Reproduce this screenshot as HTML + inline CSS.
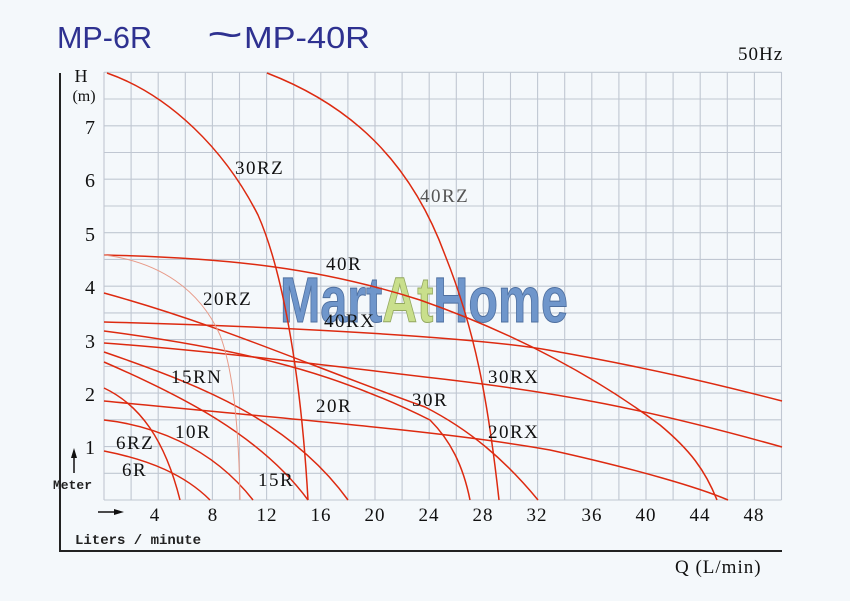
<!DOCTYPE html>
<html><head><meta charset="utf-8"><style>
html,body{margin:0;padding:0;background:#f4f8fb;}
svg{display:block}
.s{font-family:"Liberation Serif","DejaVu Serif",serif;fill:#111;}
.m{font-family:"Liberation Mono","DejaVu Sans Mono",monospace;fill:#222;font-weight:bold;}
</style></head><body>
<svg width="850" height="601" viewBox="0 0 850 601" xmlns="http://www.w3.org/2000/svg">
<rect width="850" height="601" fill="#f4f8fb"/>
<text x="57" y="48" font-family="Liberation Sans, sans-serif" font-size="31" fill="#2e3190" textLength="95" lengthAdjust="spacingAndGlyphs">MP-6R</text>
<text x="207" y="48" font-family="Liberation Sans, sans-serif" font-size="40" fill="#2e3190" textLength="36" lengthAdjust="spacingAndGlyphs">~</text>
<text x="244" y="48" font-family="Liberation Sans, sans-serif" font-size="31" fill="#2e3190" textLength="126" lengthAdjust="spacingAndGlyphs">MP-40R</text>
<text x="738" y="60" class="s" font-size="19" letter-spacing="1">50Hz</text>
<g stroke="#c0c7d2" stroke-width="1.1" fill="none">
<path d="M104 72V500M131.1 72V500M158.2 72V500M185.3 72V500M212.4 72V500M239.5 72V500M266.6 72V500M293.7 72V500M320.8 72V500M347.9 72V500M375 72V500M402.1 72V500M429.2 72V500M456.3 72V500M483.4 72V500M510.5 72V500M537.6 72V500M564.7 72V500M591.8 72V500M618.9 72V500M646 72V500M673.1 72V500M700.2 72V500M727.3 72V500M754.4 72V500M781.5 72V500"/>
<path d="M104 72.3H781.5M104 99H781.5M104 125.8H781.5M104 152.5H781.5M104 179.2H781.5M104 206H781.5M104 232.7H781.5M104 259.4H781.5M104 286.2H781.5M104 312.9H781.5M104 339.6H781.5M104 366.4H781.5M104 393.1H781.5M104 419.8H781.5M104 446.6H781.5M104 473.3H781.5M104 500H781.5"/>
</g>
<path d="M60 73V551H782" stroke="#222" stroke-width="2" fill="none"/>
<text x="280" y="322" font-family="Liberation Sans, sans-serif" font-weight="bold" font-size="64" fill="#6f96cb" stroke="#4e6f9f" stroke-width="1" textLength="288" lengthAdjust="spacingAndGlyphs">Mart<tspan fill="#c9df8c" stroke="#93a860">At</tspan>Home</text>
<g fill="none" stroke="#dd2a10" stroke-width="1.5">
<path d="M107 73C170 95 225 150 258 215C280 265 300 360 308 500"/>
<path d="M267 73C350 105 410 160 445 255C475 330 488 400 499 500"/>
<path d="M104 255C230 258 320 268 420 300C520 335 600 380 660 425C690 450 705 470 717 500"/>
<path d="M104 322C300 327 480 338 548 350C650 368 720 385 782 401"/>
<path d="M104 343C200 350 300 362 425 377C560 392 650 410 782 447"/>
<path d="M104 293C220 325 300 362 425 407C470 430 505 460 538 500"/>
<path d="M104 331C250 350 340 375 430 420C450 440 463 465 470 500"/>
<path d="M104 352C200 385 290 420 348 500"/>
<path d="M104 362C180 395 260 435 308 500"/>
<path d="M104 401C300 420 450 432 550 450C640 470 700 488 728 500"/>
<path d="M104 420C150 425 210 445 253 500"/>
<path d="M104 388C140 405 165 440 180 500"/>
<path d="M104 451C150 460 185 475 210 500"/>
</g>
<path d="M104 255C160 262 200 290 220 335C235 375 239 440 240 500" fill="none" stroke="#e89a88" stroke-width="1"/>
<g class="s" font-size="19" letter-spacing="1.5">
<text x="235" y="174">30RZ</text>
<text x="420" y="202" fill="#555">40RZ</text>
<text x="326" y="270">40R</text>
<text x="203" y="305">20RZ</text>
<text x="324" y="327">40RX</text>
<text x="171" y="383">15RN</text>
<text x="488" y="383">30RX</text>
<text x="316" y="412">20R</text>
<text x="412" y="406">30R</text>
<text x="175" y="438">10R</text>
<text x="488" y="438">20RX</text>
<text x="116" y="449">6RZ</text>
<text x="122" y="476">6R</text>
<text x="258" y="486">15R</text>
</g>
<g class="s" font-size="20" text-anchor="middle">
<text x="90" y="134">7</text><text x="90" y="187">6</text><text x="90" y="241">5</text>
<text x="90" y="294">4</text><text x="90" y="348">3</text><text x="90" y="401">2</text><text x="90" y="454">1</text>
</g>
<text x="81" y="82" class="s" font-size="18" text-anchor="middle">H</text>
<text x="84" y="101" class="s" font-size="16" text-anchor="middle">(m)</text>
<g class="s" font-size="19" text-anchor="middle" letter-spacing="1">
<text x="155" y="521">4</text><text x="213" y="521">8</text><text x="267" y="521">12</text><text x="321" y="521">16</text>
<text x="375" y="521">20</text><text x="429" y="521">24</text><text x="483" y="521">28</text><text x="537" y="521">32</text>
<text x="592" y="521">36</text><text x="646" y="521">40</text><text x="700" y="521">44</text><text x="754" y="521">48</text>
</g>
<path d="M74 473V452" stroke="#111" stroke-width="1.5"/><path d="M71 458L74 448L77 458Z" fill="#111"/>
<path d="M98 512H116" stroke="#111" stroke-width="1.5"/><path d="M114 509L124 512L114 515Z" fill="#111"/>
<text x="53" y="489" class="m" font-size="13">Meter</text>
<text x="75" y="544" class="m" font-size="14">Liters / minute</text>
<text x="675" y="573" class="s" font-size="19" letter-spacing="1">Q (L/min)</text>
</svg>
</body></html>
